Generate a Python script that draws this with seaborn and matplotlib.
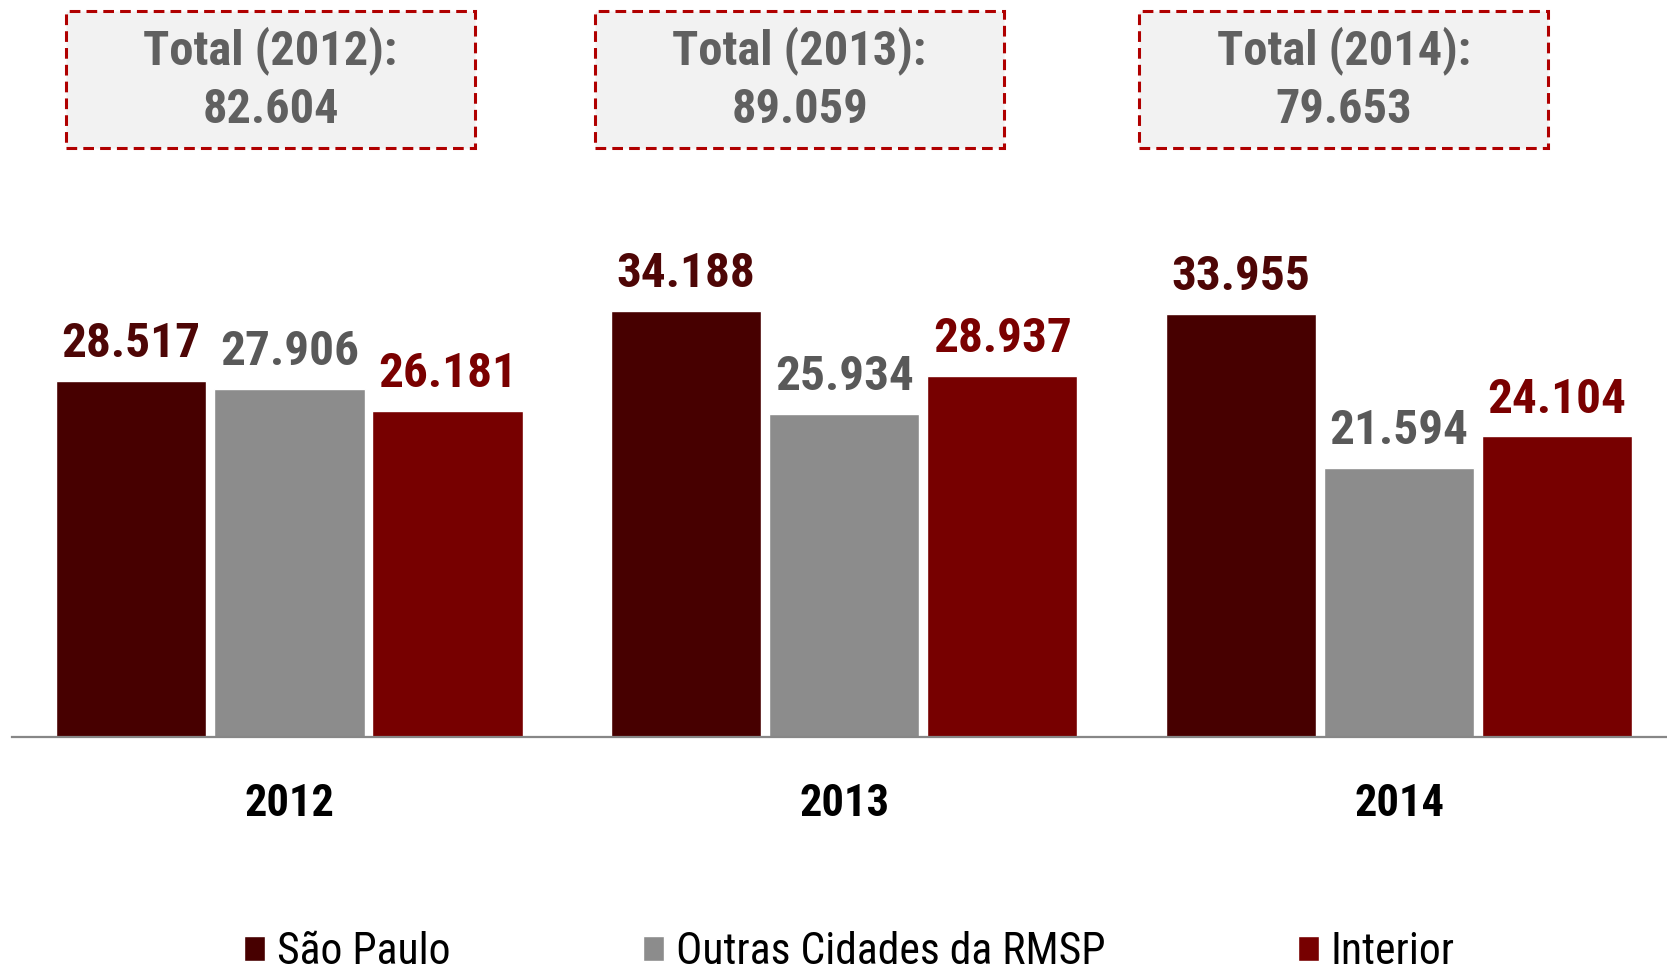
import pandas as pd
import matplotlib
matplotlib.use("Agg")
import matplotlib.pyplot as plt
import seaborn as sns
from matplotlib import font_manager
from matplotlib.patches import Rectangle

anos = ["2012", "2013", "2014"]
regioes = ["São Paulo", "Outras Cidades da RMSP", "Interior"]
sao_paulo = [28517, 34188, 33955]
outras_rmsp = [27906, 25934, 21594]
interior = [26181, 28937, 24104]

cores_barras = ["#470000", "#8c8c8c", "#770000"]
cores_rotulos = ["#4e0606", "#595959", "#7a0000"]


def pick_font(names):
    avail = {f.name for f in font_manager.fontManager.ttflist}
    for n in names:
        if n in avail:
            return n
    return "DejaVu Sans"


def fmt(v):
    return f"{v:,}".replace(",", ".")   # separador de milhar brasileiro


def main():
    sns.set_theme(style="white")
    fonte = pick_font(["Roboto Condensed", "Liberation Sans Narrow", "DejaVu Sans Condensed", "Roboto"])
    plt.rcParams["font.family"] = [fonte, "DejaVu Sans"]

    df = pd.DataFrame({
        "ano": anos * 3,
        "regiao": [r for r in regioes for _ in anos],
        "valor": sao_paulo + outras_rmsp + interior,
    })

    W, H = 1667, 972
    fig = plt.figure(figsize=(W / 100, H / 100), dpi=100)
    ax = fig.add_axes([12 / W, 1 - 737 / H, 1 - 12 / W, 737 / H])

    sns.barplot(data=df, x="ano", y="valor", hue="regiao", hue_order=regioes,
                palette=cores_barras, width=0.855, gap=0.05, saturation=1, ax=ax)

    for cont, cor in zip(ax.containers, cores_rotulos):
        vals = [b.get_height() for b in cont]
        ax.bar_label(cont, labels=[fmt(int(round(v))) for v in vals], padding=10,
                     color=cor, fontsize=35.5, fontweight="bold")

    ax.set_xlim(-0.5, 2.483)
    ax.set_ylim(0, 59100)
    ax.set_xlabel("")
    ax.set_ylabel("")
    ax.set_yticks([])
    ax.tick_params(axis="x", length=0, pad=33, labelsize=32, labelcolor="black")
    for lab in ax.get_xticklabels():
        lab.set_fontweight("bold")
    for s in ["top", "left", "right"]:
        ax.spines[s].set_visible(False)
    ax.spines["bottom"].set_color("#878787")
    ax.spines["bottom"].set_linewidth(1.6)

    handles, labels = ax.get_legend_handles_labels()
    ax.get_legend().remove()
    fig.legend(handles, labels, loc="center", bbox_to_anchor=(849.5 / W, 1 - 952 / H),
               ncol=3, frameon=False, fontsize=31.5, handlelength=0.48, handleheight=0.48,
               handletextpad=0.27, columnspacing=4.4, borderpad=0, labelcolor="black")

    # caixas com o total de cada ano
    totais = [a + b + c for a, b, c in zip(sao_paulo, outras_rmsp, interior)]
    caixa_esq = [66, 595, 1139]
    for ano, tot, x0 in zip(anos, totais, caixa_esq):
        fig.add_artist(Rectangle((x0 / W, 1 - 148 / H), 409 / W, 137 / H, transform=fig.transFigure,
                                 facecolor="#f2f2f2", edgecolor="#b00000", lw=2.2,
                                 linestyle=(0, (3.5, 2))))
        fig.text((x0 + 204.5) / W, 1 - 79.5 / H, f"Total ({ano}):\n{fmt(tot)}", ha="center", va="center",
                 fontsize=34.8, fontweight="bold", color="#606060", linespacing=1.34)

    fig.savefig("out.png", dpi=100)


if __name__ == "__main__":
    main()
